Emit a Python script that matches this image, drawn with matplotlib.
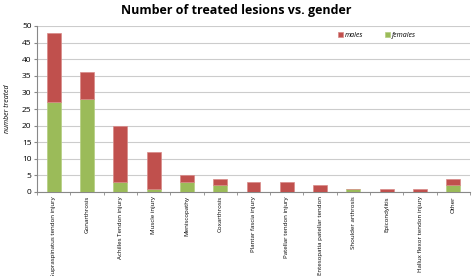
import matplotlib
matplotlib.use("Agg")
import matplotlib.pyplot as plt
import numpy as np

categories = ["Supraspinatus tendon injury", "Gonarthrosis", "Achilles Tendon injury",
              "Muscle injury", "Meniscopathy", "Coxarthrosis", "Plantar fascia injury",
              "Patellar tendon injury", "Entesopatia patellar tendon", "Shoulder arthrosis",
              "Epicondylitis", "Hallux flexor tendon injury", "Other"]
females = [27, 28, 3, 1, 3, 2, 0, 0, 0, 1, 0, 0, 2]
males = [21, 8, 17, 11, 2, 2, 3, 3, 2, 0, 1, 1, 2]
yticks = list(range(0, 51, 5))

RED = "#C0504D"
GREEN = "#9BBB59"
plt.rcParams['font.family'] = ['Open Sans', 'DejaVu Sans']

fig = plt.figure(figsize=(4.72, 2.76), dpi=100)
ax = fig.add_axes([37/472, 1-192/276, (470-37)/472, (192-26)/276])
x = np.arange(len(categories))
ax.bar(x, females, width=0.42, color=GREEN, edgecolor="#b5cf80", linewidth=0.5, label="females", zorder=3)
ax.bar(x, males, width=0.42, bottom=females, color=RED, edgecolor="#d88a88", linewidth=0.5, label="males", zorder=3)
ax.set_xlim(-0.5, len(categories) - 0.5)
ax.set_ylim(0, 50)
ax.set_yticks(yticks)
ax.tick_params(axis='y', labelsize=6, length=2, color="#888888", pad=2)
ax.set_xticks(x)
ax.set_xticklabels(categories, rotation=90, fontsize=4.4, family=['Liberation Sans Narrow', 'Open Sans', 'DejaVu Sans'])
ax.tick_params(axis='x', length=0, pad=3)
ax.set_xticks(np.arange(-0.5, len(categories), 1), minor=True)
ax.tick_params(axis='x', which='minor', length=2, color="#888888")
ax.grid(axis='y', color="#cccccc", linewidth=0.8, zorder=0)
for s in ["top", "right"]:
    ax.spines[s].set_visible(False)
ax.spines["left"].set_color("#888888")
ax.spines["bottom"].set_color("#888888")
ax.set_ylabel("number treated", fontsize=5, fontstyle='italic', labelpad=8)
fig.suptitle("Number of treated lesions vs. gender", fontsize=9.0, fontweight='bold', y=0.985)
h, l = ax.get_legend_handles_labels()
leg = ax.legend(h[::-1], l[::-1], loc='upper left', bbox_to_anchor=(0.68, 1.0), ncol=2,
                frameon=False, prop={'size': 5, 'style': 'italic'}, handlelength=0.7,
                handleheight=0.7, columnspacing=3.2, handletextpad=0.3)
fig.savefig("out.png", dpi=100)
